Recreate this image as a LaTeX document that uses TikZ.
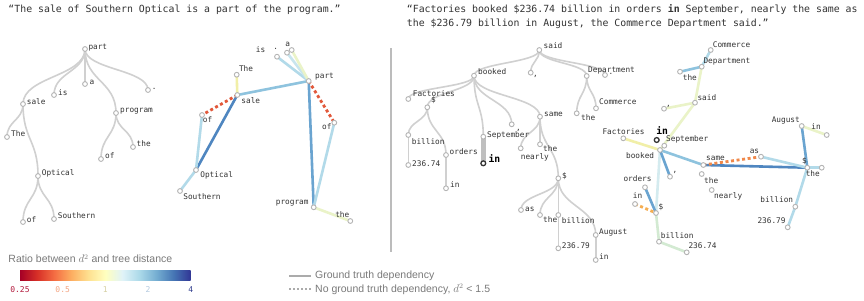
\documentclass[tikz,border=0pt]{standalone}
\usepackage{fontspec}
\setmonofont{DejaVu Sans Mono}
\newfontfamily\legfont{Liberation Sans}
\usetikzlibrary{calc}
\pgfdeclarelayer{bg}
\pgfsetlayers{bg,main}
\definecolor{txt}{HTML}{333333}
\definecolor{dotgray}{HTML}{B4B4B4}
\definecolor{edgegray}{HTML}{D0D0D0}
\definecolor{bargray}{HTML}{BFBFBF}
\definecolor{blueA}{HTML}{4F86C0}
\definecolor{blueB}{HTML}{6AA4D0}
\definecolor{blueC}{HTML}{8EC3DE}
\definecolor{blueD}{HTML}{B2DAE9}
\definecolor{blueP}{HTML}{C8E5EE}
\definecolor{paleE}{HTML}{D4EBEF}
\definecolor{yelF}{HTML}{EAF3C8}
\definecolor{yelG}{HTML}{F1EFA8}
\definecolor{grnH}{HTML}{D3EAD2}
\definecolor{redD}{HTML}{E2583A}
\definecolor{orgD}{HTML}{F0884A}
\definecolor{orgY}{HTML}{F5AE52}
\definecolor{legtxt}{HTML}{7A7A7A}
\definecolor{leggray}{HTML}{ABABAB}
\definecolor{cb0}{HTML}{A50026}
\definecolor{cb1}{HTML}{D73027}
\definecolor{cb2}{HTML}{F46D43}
\definecolor{cb3}{HTML}{FDAE61}
\definecolor{cb4}{HTML}{FEE090}
\definecolor{cb5}{HTML}{FFFFBF}
\definecolor{cb6}{HTML}{E0F3F8}
\definecolor{cb7}{HTML}{ABD9E9}
\definecolor{cb8}{HTML}{74ADD1}
\definecolor{cb9}{HTML}{4575B4}
\definecolor{cb10}{HTML}{313695}
\definecolor{tk1}{HTML}{B2183B}
\definecolor{tk2}{HTML}{F4A582}
\definecolor{tk3}{HTML}{D6D0A4}
\definecolor{tk4}{HTML}{B4CAE0}
\definecolor{tk5}{HTML}{33408F}
\pgfdeclarehorizontalshading{rdylbu}{100bp}{color(0bp)=(cb0); color(25bp)=(cb0); color(30bp)=(cb1); color(35bp)=(cb2); color(40bp)=(cb3); color(45bp)=(cb4); color(50bp)=(cb5); color(55bp)=(cb6); color(60bp)=(cb7); color(65bp)=(cb8); color(70bp)=(cb9); color(75bp)=(cb10); color(100bp)=(cb10)}
\newcommand{\treelinkx}[2]{\draw[tedge] let \p1=(#1.center), \p2=(#2.center) in (\p1) .. controls (\x1,{0.5*(\y1+\y2)}) and (\x2,{0.5*(\y1+\y2)}) .. (\p2);}
\tikzset{
 dot/.style={circle, draw=dotgray, fill=white, line width=0.9pt, inner sep=0pt, minimum size=4.8pt},
 hdot/.style={dot, draw=black!80, line width=1.3pt},
 lab/.style={font=\ttfamily\fontsize{7.75}{9}\selectfont, text=txt, inner sep=0pt, text height=5.8pt, text depth=1.6pt},
 blab/.style={font=\ttfamily\bfseries\fontsize{9.7}{11}\selectfont, text=black, inner sep=0pt, text height=7.2pt, text depth=2pt},
 hdr/.style={font=\ttfamily\fontsize{9.85}{12}\selectfont, text=txt, inner sep=0pt, anchor=west},
 tedge/.style={draw=edgegray, line width=1.6pt},
 pe/.style={draw=#1, line width=2.6pt, line cap=round},
 de/.style={draw=#1, line width=2.8pt, dash pattern=on 3pt off 2.6pt},
 leg/.style={font=\legfont\fontsize{10.5}{12}\selectfont, text=legtxt, inner sep=0pt, anchor=west},
 ticklab/.style={font=\ttfamily\fontsize{8}{9}\selectfont, inner sep=0pt, text height=5.8pt, text depth=0pt},
}
\begin{document}
\begin{tikzpicture}[x=1pt,y=-1pt]
\begin{pgfonlayer}{bg}
\fill[white] (0,0) rectangle (864,300);
\end{pgfonlayer}
\useasboundingbox (0,0) rectangle (864,300);
% headers
\node[hdr] (h1) at (8.3,10) {“The sale of Southern Optical is a part of the program.”};
\node[hdr] (h2) at (406.7,10) {“Factories booked \$236.74 billion in orders {\bfseries in} September, nearly the same as};
\node[hdr] (h3) at (406.7,24) {the \$236.79 billion in August, the Commerce Department said.”};
% ---------------- left tree
\node[dot] (aPart) at (85,49) {};
\node[dot] (aIs) at (54,95) {};
\node[dot] (aA) at (85,84) {};
\node[dot] (aDot) at (148,90) {};
\node[dot] (aSale) at (23,104) {};
\node[dot] (aProg) at (116,113) {};
\node[dot] (aThe) at (7,137) {};
\node[dot] (aThe2) at (133,147) {};
\node[dot] (aOfP) at (101,159) {};
\node[dot] (aOpt) at (38,176) {};
\node[dot] (aOfO) at (23,222) {};
\node[dot] (aSou) at (54,219) {};
\node[lab,anchor=west] (aPartT) at (88.3,47.3) {part};
\node[lab,anchor=west] (aIsT) at (58,93.3) {is};
\node[lab,anchor=west] (aAT) at (89.3,82) {a};
\node[lab,anchor=west] (aDotT) at (151.7,87.7) {.};
\node[lab,anchor=west] (aSaleT) at (26.7,102.3) {sale};
\node[lab,anchor=west] (aProgT) at (120,110.7) {program};
\node[lab,anchor=west] (aTheT) at (11,134) {The};
\node[lab,anchor=west] (aThe2T) at (136.5,144) {the};
\node[lab,anchor=west] (aOfPT) at (105,156.7) {of};
\node[lab,anchor=west] (aOptT) at (41.7,173.3) {Optical};
\node[lab,anchor=west] (aOfOT) at (26.7,220.7) {of};
\node[lab,anchor=west] (aSouT) at (57.7,216.7) {Southern};
% ---------------- middle projection
\node[dot] (cPart) at (308.7,81) {};
\node[dot] (cA) at (291.7,50) {};
\node[dot] (cDot) at (287,52.7) {};
\node[dot] (cIs) at (277,56.7) {};
\node[dot] (cThe) at (236.7,74.7) {};
\node[dot] (cSale) at (237.3,95) {};
\node[dot] (cOfS) at (202,115) {};
\node[dot] (cOpt) at (196,170) {};
\node[dot] (cSou) at (180,191) {};
\node[dot] (cOfP) at (334.3,122.7) {};
\node[dot] (cProg) at (313.7,207.3) {};
\node[dot] (cThe2) at (350.3,221) {};
\node[lab] (cPartT) at (324.5,76) {part};
\node[lab] (cAT) at (287.7,44) {a};
\node[lab] (cDotT) at (275.7,47.2) {.};
\node[lab] (cIsT) at (260.5,50.7) {is};
\node[lab] (cTheT) at (246,69) {The};
\node[lab] (cSaleT) at (250.8,101) {sale};
\node[lab] (cOfST) at (207.5,120) {of};
\node[lab] (cOptT) at (216.7,175.7) {Optical};
\node[lab] (cSouT) at (202,197.7) {Southern};
\node[lab] (cOfPT) at (326.8,127.7) {of};
\node[lab] (cProgT) at (292.2,202.7) {program};
\node[lab] (cThe2T) at (342.3,215.7) {the};
% ---------------- right tree
\node[dot] (bSaid) at (539.3,50) {};
\node[dot] (bBooked) at (474,75.7) {};
\node[dot] (bCom1) at (530.7,72.7) {};
\node[dot] (bDept) at (586.7,76) {};
\node[dot] (bDot) at (605,75) {};
\node[dot] (bFact) at (408.3,99) {};
\node[dot] (bDol1) at (427.3,107.3) {};
\node[dot] (bComm) at (596,108.3) {};
\node[dot] (bThe1) at (576.7,113.3) {};
\node[dot] (bSame) at (540,116.7) {};
\node[dot] (bCom2) at (511.7,124.3) {};
\node[dot] (bSept) at (483.3,136.7) {};
\node[dot] (bBil1) at (408.3,135) {};
\node[dot] (bNear) at (520.7,148.3) {};
\node[dot] (bThe2) at (540,144.3) {};
\node[dot] (bOrd) at (446,155) {};
\node[dot] (bNum1) at (408.3,165) {};
\node[hdot] (bIn1) at (483.3,163.3) {};
\node[dot] (bDol2) at (558.3,178.3) {};
\node[dot] (bIn2) at (446,188.3) {};
\node[dot] (bAs) at (521,210) {};
\node[dot] (bThe3) at (540,215) {};
\node[dot] (bBil2) at (558.3,215) {};
\node[dot] (bAug) at (595.7,235) {};
\node[dot] (bNum2) at (558.3,248.3) {};
\node[dot] (bIn3) at (595.7,260) {};
\node[lab,anchor=west] (bSaidT) at (543.5,46.7) {said};
\node[lab,anchor=west] (bBookedT) at (478,72.7) {booked};
\node[lab,anchor=west] (bCom1T) at (533,74) {,};
\node[lab,anchor=west] (bDeptT) at (588,70) {Department};
\node[lab,anchor=west] (bDotT) at (608.5,72.4) {.};
\node[lab,anchor=west] (bFactT) at (412.7,94) {Factories};
\node[lab,anchor=west] (bDol1T) at (431,100.3) {\$};
\node[lab,anchor=west] (bCommT) at (599,102) {Commerce};
\node[lab,anchor=west] (bThe1T) at (581,118.3) {the};
\node[lab,anchor=west] (bSameT) at (544,114.7) {same};
\node[lab,anchor=west] (bCom2T) at (516,128) {,};
\node[lab,anchor=west] (bSeptT) at (487,135.5) {September};
\node[lab,anchor=west] (bBil1T) at (411.7,142.7) {billion};
\node[lab,anchor=west] (bNearT) at (520.7,157.7) {nearly};
\node[lab,anchor=west] (bThe2T) at (543,149.3) {the};
\node[lab,anchor=west] (bOrdT) at (449.5,152.3) {orders};
\node[lab,anchor=west] (bNum1T) at (412,164) {236.74};
\node[blab,anchor=west] (bIn1T) at (488.3,160) {in};
\node[lab,anchor=west] (bDol2T) at (562,176.5) {\$};
\node[lab,anchor=west] (bIn2T) at (450,185.7) {in};
\node[lab,anchor=west] (bAsT) at (525,209) {as};
\node[lab,anchor=west] (bThe3T) at (543,220) {the};
\node[lab,anchor=west] (bBil2T) at (561.7,221) {billion};
\node[lab,anchor=west] (bAugT) at (599,232.3) {August};
\node[lab,anchor=west] (bNum2T) at (561.7,246) {236.79};
\node[lab,anchor=west] (bIn3T) at (599,257.7) {in};
% ---------------- right projection
\node[dot] (dComm) at (710.7,50) {};
\node[dot] (dDept) at (701.7,66.7) {};
\node[dot] (dThe1) at (680,71.7) {};
\node[dot] (dSaid) at (695,102.7) {};
\node[dot] (dCom1) at (664,108.7) {};
\node[dot] (dFact) at (623.3,138.3) {};
\node[hdot] (dIn1) at (656.7,140) {};
\node[dot] (dSept) at (664.3,145.7) {};
\node[dot] (dBooked) at (660,150) {};
\node[dot] (dCom2) at (670,176.7) {};
\node[dot] (dSame) at (703.3,165) {};
\node[dot] (dThe2) at (701.7,174) {};
\node[dot] (dNear) at (711.7,190) {};
\node[dot] (dOrd) at (645,187.3) {};
\node[dot] (dIn2) at (635,204) {};
\node[dot] (dDol1) at (656,213) {};
\node[dot] (dBil1) at (659,241.7) {};
\node[dot] (dNum1) at (686.7,252.3) {};
\node[dot] (dAug) at (801.7,126) {};
\node[dot] (dIn3) at (826.7,135) {};
\node[dot] (dAs) at (761,156.7) {};
\node[dot] (dDol2) at (807.3,167.7) {};
\node[dot] (dThe3) at (821.7,167.7) {};
\node[dot] (dBil2) at (795.3,206.7) {};
\node[dot] (dNum2) at (787.7,227.3) {};
\node[lab,anchor=west] (dCommT) at (712.7,45) {Commerce};
\node[lab,anchor=west] (dDeptT) at (703.3,61) {Department};
\node[lab,anchor=west] (dThe1T) at (682.7,78.3) {the};
\node[lab,anchor=west] (dSaidT) at (697.3,98.3) {said};
\node[lab,anchor=west] (dCom1T) at (666,104) {,};
\node[lab] (dFactT) at (623.5,132.7) {Factories};
\node[blab] (dIn1T) at (662.2,131.7) {in};
\node[lab,anchor=west] (dSeptT) at (666,139.3) {September};
\node[lab,anchor=east] (dBookedT) at (654.3,156) {booked};
\node[lab,anchor=west] (dCom2T) at (672.5,170.6) {,};
\node[lab,anchor=west] (dSameT) at (706,158.3) {same};
\node[lab,anchor=west] (dThe2T) at (704,181) {the};
\node[lab,anchor=west] (dNearT) at (714,196.7) {nearly};
\node[lab,anchor=east] (dOrdT) at (651.7,179) {orders};
\node[lab] (dIn2T) at (637.5,196) {in};
\node[lab,anchor=west] (dDol1T) at (658.5,207.3) {\$};
\node[lab,anchor=west] (dBil1T) at (660.7,236) {billion};
\node[lab,anchor=west] (dNum1T) at (688.3,246.7) {236.74};
\node[lab,anchor=east] (dAugT) at (800,120) {August};
\node[lab,anchor=east] (dIn3T) at (821,127.3) {in};
\node[lab,anchor=east] (dAsT) at (759.3,151) {as};
\node[lab] (dDol2T) at (804.5,161.7) {\$};
\node[lab,anchor=east] (dThe3T) at (820,174) {the};
\node[lab,anchor=east] (dBil2T) at (793.3,200) {billion};
\node[lab,anchor=east] (dNum2T) at (785.7,221.7) {236.79};
% divider and legend coordinates
\coordinate (v1) at (391,48);
\coordinate (v2) at (391,252);
\coordinate (g1) at (289,275.7);
\coordinate (g2) at (311,275.7);
\coordinate (g3) at (289,289.3);
\coordinate (g4) at (311,289.3);
\begin{pgfonlayer}{bg}
% left tree edges
\treelinkx{aPart}{aSale}
\treelinkx{aPart}{aIs}
\treelinkx{aPart}{aA}
\treelinkx{aPart}{aDot}
\treelinkx{aPart}{aProg}
\treelinkx{aSale}{aThe}
\treelinkx{aSale}{aOpt}
\treelinkx{aProg}{aOfP}
\treelinkx{aProg}{aThe2}
\treelinkx{aOpt}{aOfO}
\treelinkx{aOpt}{aSou}
% middle projection edges
\draw[pe=blueD] (cPart.center) -- (cIs.center);
\draw[pe=blueP] (cPart.center) -- (cDot.center);
\draw[pe=yelF] (cPart.center) -- (cA.center);
\draw[pe=blueC] (cPart.center) -- (cSale.center);
\draw[pe=blueB] (cPart.center) -- (cProg.center);
\draw[pe=yelG] (cSale.center) -- (cThe.center);
\draw[pe=blueA] (cSale.center) -- (cOpt.center);
\draw[pe=blueD] (cOpt.center) -- (cOfS.center);
\draw[pe=blueD] (cOpt.center) -- (cSou.center);
\draw[pe=blueD] (cProg.center) -- (cOfP.center);
\draw[pe=yelF] (cProg.center) -- (cThe2.center);
\draw[de=redD] (cSale.center) -- (cOfS.center);
\draw[de=redD] (cPart.center) -- (cOfP.center);
% right tree edges
\treelinkx{bSaid}{bBooked}
\treelinkx{bSaid}{bCom1}
\treelinkx{bSaid}{bDept}
\treelinkx{bSaid}{bDot}
\treelinkx{bDept}{bThe1}
\treelinkx{bDept}{bComm}
\treelinkx{bBooked}{bFact}
\treelinkx{bBooked}{bDol1}
\treelinkx{bBooked}{bSept}
\treelinkx{bBooked}{bCom2}
\treelinkx{bBooked}{bSame}
\treelinkx{bDol1}{bBil1}
\treelinkx{bDol1}{bOrd}
\treelinkx{bBil1}{bNum1}
\treelinkx{bOrd}{bIn2}
\treelinkx{bSame}{bNear}
\treelinkx{bSame}{bThe2}
\treelinkx{bSame}{bDol2}
\treelinkx{bDol2}{bAs}
\treelinkx{bDol2}{bThe3}
\treelinkx{bDol2}{bBil2}
\treelinkx{bDol2}{bAug}
\treelinkx{bBil2}{bNum2}
\treelinkx{bAug}{bIn3}
\draw[draw=bargray, line width=5pt] (bSept.center) -- (bIn1.center);
% right projection edges
\draw[pe=blueD] (dComm.center) -- (dDept.center);
\draw[pe=blueC] (dDept.center) -- (dThe1.center);
\draw[pe=yelF] (dDept.center) -- (dSaid.center);
\draw[pe=yelF] (dSaid.center) -- (dCom1.center);
\draw[pe=yelF] (dSaid.center) -- (dBooked.center);
\draw[pe=yelG] (dFact.center) -- (dBooked.center);
\draw[pe=paleE] (dBooked.center) -- (dDol1.center);
\draw[pe=blueB] (dBooked.center) -- (dCom2.center);
\draw[pe=blueC] (dBooked.center) -- (dSame.center);
\draw[pe=blueB] (dOrd.center) -- (dDol1.center);
\draw[pe=grnH] (dDol1.center) -- (dBil1.center);
\draw[pe=grnH] (dBil1.center) -- (dNum1.center);
\draw[de=orgY] (dIn2.center) -- (dDol1.center);
\draw[pe=blueA] (dSame.center) -- (dDol2.center);
\draw[de=orgD] (dSame.center) -- (dAs.center);
\draw[pe=blueD] (dDol2.center) -- (dAs.center);
\draw[pe=blueB] (dDol2.center) -- (dAug.center);
\draw[pe=yelF] (dAug.center) -- (dIn3.center);
\draw[pe=blueD] (dDol2.center) -- (dThe3.center);
\draw[pe=blueD] (dDol2.center) -- (dBil2.center);
\draw[pe=blueD] (dBil2.center) -- (dNum2.center);
\end{pgfonlayer}
% divider
\draw[draw=leggray!80, line width=1.1pt] (v1) -- (v2);
% legend
\node[leg] (legT) at (8.3,258.8) {Ratio between $d^2$ and tree distance};
\shade[shading=rdylbu] (20,270) rectangle (190.7,280.7);
\node[ticklab, text=tk1] (tA) at (20,289.3) {0.25};
\node[ticklab, text=tk2] (tB) at (62.7,289.3) {0.5};
\node[ticklab, text=tk3] (tC) at (105.3,289.3) {1};
\node[ticklab, text=tk4] (tD) at (148,289.3) {2};
\node[ticklab, text=tk5] (tE) at (190.7,289.3) {4};
\draw[draw=leggray, line width=1.8pt] (g1) -- (g2);
\draw[draw=leggray, line width=1.8pt, dash pattern=on 1.8pt off 2.2pt] (g3) -- (g4);
\node[leg] (l1) at (315,275.7) {Ground truth dependency};
\node[leg] (l2) at (315,289.3) {No ground truth dependency, $d^2$ < 1.5};
\end{tikzpicture}
\end{document}
